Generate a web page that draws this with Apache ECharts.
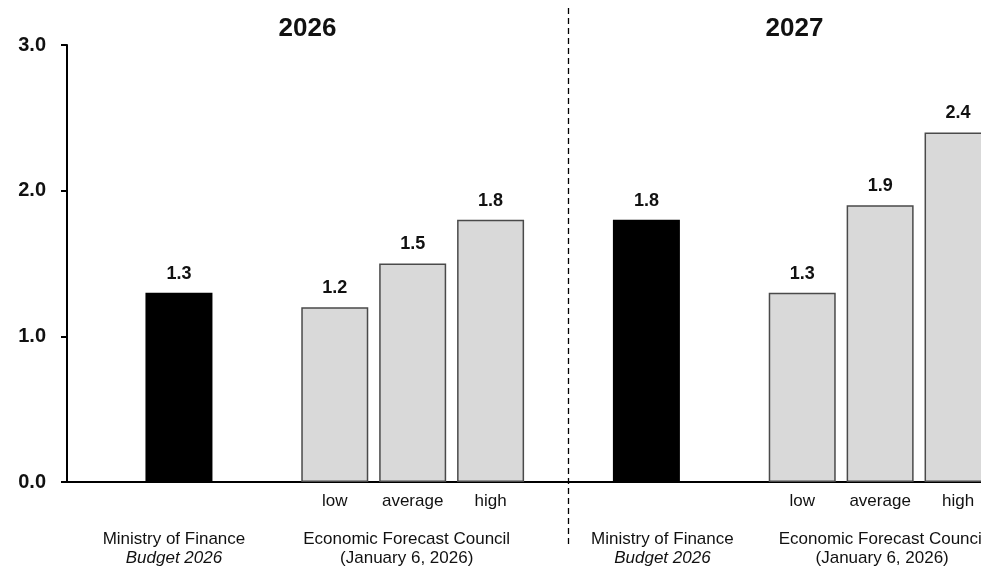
<!DOCTYPE html>
<html>
<head>
<meta charset="utf-8">
<title>GDP growth forecasts 2026–2027</title>
<script src="https://cdn.jsdelivr.net/npm/echarts@6/dist/echarts.min.js"></script>
<style>
  html, body { margin: 0; padding: 0; background: #ffffff; overflow: hidden; width: 981px; height: 571px; }
  /* the drawing surface runs a little past the right edge, so the last bar is cut off */
  #chart { width: 1000px; height: 571px; }
</style>
</head>
<body>
<div id="chart"></div>
<script>
// Category slots along the x axis (gaps and the year divider are empty slots)
const categories = ['mof2026', 'gap2026', 'low2026', 'avg2026', 'high2026', 'divider',
                    'mof2027', 'gap2027', 'low2027', 'avg2027', 'high2027'];
// Scenario labels under the council bars
const tickLabels = ['', '', 'low', 'average', 'high', '', '', '', 'low', 'average', 'high'];
// Source labels under each group
const groupLabels = ['Ministry of Finance\n{i|Budget 2026}', '', '', 'Economic Forecast Council\n(January 6, 2026)', '', '',
                     'Ministry of Finance\n{i|Budget 2026}', '', '', 'Economic Forecast Council\n(January 6, 2026)', ''];
// Forecast values
const ministryValues = [1.3, null, null, null, null, null, 1.8, null, null, null, null];
const councilValues  = [null, null, 1.2, 1.5, 1.8, null, null, null, 1.3, 1.9, 2.4];
// Year headings
const years = ['2026', '2027'];

const FONT = '"Liberation Sans", Arial, Helvetica, sans-serif';
const chart = echarts.init(document.getElementById('chart'), null, { renderer: 'canvas' });

// small horizontal nudges for the source labels
const groupShift = [-5, 0, 0, -6, 0, 0, 16, 0, 0, 2, 0];

const option = {
  animation: false,
  backgroundColor: '#ffffff',
  grid: [
    { left: 140, right: 3, top: 45, bottom: 89, containLabel: false },
    { left: 67, right: 0, top: 45, bottom: 89, containLabel: false }
  ],
  xAxis: [
    {
      type: 'category', gridIndex: 0, data: categories,
      axisLine: { show: false }, axisTick: { show: false },
      axisLabel: {
        interval: 0, margin: 11, color: '#111', fontFamily: FONT, fontSize: 17,
        formatter: (v, i) => tickLabels[i]
      }
    },
    {
      type: 'category', gridIndex: 0, position: 'bottom',
      data: categories.map((c, i) => {
        const s = groupShift[i];
        return { value: c, textStyle: { padding: s >= 0 ? [0, 0, 0, 2 * s] : [0, -2 * s, 0, 0] } };
      }),
      axisLine: { show: false }, axisTick: { show: false },
      axisLabel: {
        interval: 0, margin: 48, color: '#111', fontFamily: FONT, fontSize: 17, lineHeight: 19,
        formatter: (v, i) => groupLabels[i],
        rich: { i: { fontStyle: 'italic', fontFamily: FONT, fontSize: 17, lineHeight: 19, color: '#111' } }
      }
    },
    {
      type: 'value', gridIndex: 1, min: 0, max: 1,
      axisLine: { show: true, lineStyle: { color: '#000', width: 2 } },
      axisTick: { show: false }, axisLabel: { show: false }, splitLine: { show: false }
    }
  ],
  yAxis: [
    {
      type: 'value', gridIndex: 0, min: 0, max: 3, interval: 1, show: false
    },
    {
      type: 'value', gridIndex: 1, min: 0, max: 3, interval: 1,
      axisLine: { show: true, lineStyle: { color: '#000', width: 2 } },
      axisTick: { show: true, length: 6, lineStyle: { color: '#000', width: 2 } },
      splitLine: { show: false },
      axisLabel: {
        margin: 21, color: '#111', fontFamily: FONT, fontSize: 20, fontWeight: 'bold',
        formatter: v => v.toFixed(1)
      }
    }
  ],
  series: [
    {
      name: 'Ministry of Finance', type: 'bar', xAxisIndex: 0, yAxisIndex: 0,
      data: ministryValues, barWidth: 67, barGap: '-100%',
      itemStyle: { color: '#000000' },
      label: {
        show: true, position: 'top', distance: 10, color: '#111',
        fontFamily: FONT, fontSize: 18, fontWeight: 'bold',
        formatter: p => p.value.toFixed(1)
      }
    },
    {
      name: 'Economic Forecast Council', type: 'bar', xAxisIndex: 0, yAxisIndex: 0,
      data: councilValues, barWidth: 67, barGap: '-100%',
      itemStyle: { color: '#d9d9d9', borderColor: '#4a4a4a', borderWidth: 1.5 },
      label: {
        show: true, position: 'top', distance: 10, color: '#111',
        fontFamily: FONT, fontSize: 18, fontWeight: 'bold',
        formatter: p => p.value.toFixed(1)
      }
    }
  ]
};
chart.setOption(option);

// Year divider and year headings, positioned through the category axis
const dividerX = chart.convertToPixel({ xAxisIndex: 0 }, 'divider');
const firstX = chart.convertToPixel({ xAxisIndex: 0 }, 'mof2026');
const secondX = chart.convertToPixel({ xAxisIndex: 0 }, 'mof2027');
const slot = chart.convertToPixel({ xAxisIndex: 0 }, 'gap2026') - firstX;
chart.setOption({
  graphic: [
    {
      type: 'line', silent: true,
      shape: { x1: dividerX, y1: 8, x2: dividerX, y2: 548 },
      style: { stroke: '#000', lineWidth: 1.3, lineDash: [6, 4] }
    },
    {
      type: 'text', silent: true, x: firstX + slot * 1.65, y: 29,
      style: { text: years[0], font: 'bold 26px ' + FONT, fill: '#111', align: 'center', verticalAlign: 'middle' }
    },
    {
      type: 'text', silent: true, x: secondX + slot * 1.9, y: 29,
      style: { text: years[1], font: 'bold 26px ' + FONT, fill: '#111', align: 'center', verticalAlign: 'middle' }
    }
  ]
});
</script>
</body>
</html>
